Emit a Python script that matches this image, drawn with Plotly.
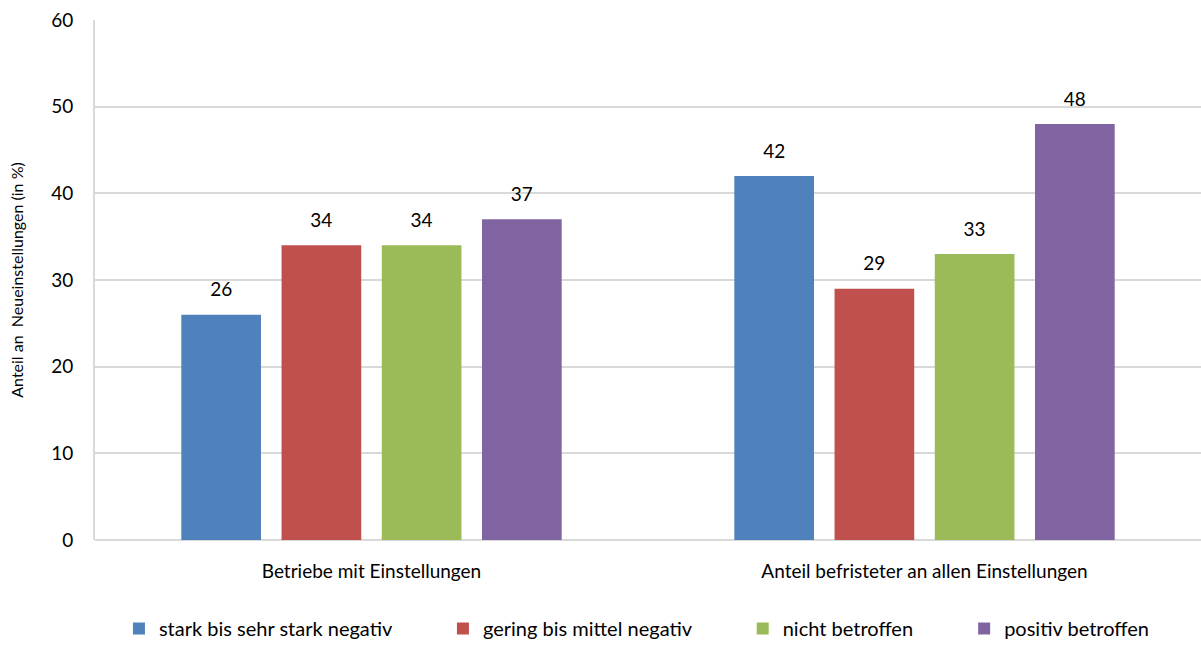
import plotly.graph_objects as go

categories = ["Betriebe mit Einstellungen", "Anteil befristeter an allen Einstellungen"]
series_names = ["stark bis sehr stark negativ", "gering bis mittel negativ", "nicht betroffen", "positiv betroffen"]
series_values = [
    [26, 42],
    [34, 29],
    [34, 33],
    [37, 48],
]
colors = ["#4F81BD", "#C0504D", "#9BBB59", "#8064A2"]
y_ticks = [0, 10, 20, 30, 40, 50, 60]
legend_pad = ["\u00a0" * 9, "\u00a0" * 9, "\u00a0" * 9, ""]

FONT = "Lato"

fig = go.Figure()
for i, (name, vals, col, pad) in enumerate(zip(series_names, series_values, colors, legend_pad)):
    fig.add_trace(go.Bar(
        x=categories, y=vals, name=name + pad,
        marker=dict(color=col, line=dict(width=0)),
        offsetgroup=str(i), alignmentgroup="a",
        cliponaxis=False,
    ))
for i, vals in enumerate(series_values):
    fig.add_trace(go.Scatter(
        x=categories, y=vals, mode="markers+text",
        text=[str(v) for v in vals], textposition="top center",
        textfont=dict(family=FONT, size=19, color="#000000"),
        marker=dict(size=20, opacity=0),
        offsetgroup=str(i), alignmentgroup="a",
        showlegend=False, hoverinfo="skip", cliponaxis=False,
    ))

fig.update_layout(
    width=1201, height=648,
    margin=dict(l=95, r=0, t=20, b=108, autoexpand=False),
    plot_bgcolor="white", paper_bgcolor="white",
    barmode="group", bargap=0.275, bargroupgap=0.205,
    scattermode="group", scattergap=0.275,
    font=dict(family=FONT, size=19, color="#000000"),
    showlegend=True,
    legend=dict(orientation="h", x=0.49, xanchor="center", yref="container", y=-0.012, yanchor="bottom",
                font=dict(family=FONT, size=20), itemwidth=30, traceorder="normal"),
    xaxis=dict(showline=False, ticks="", tickfont=dict(size=19), ticklabelstandoff=18),
    yaxis=dict(range=[0, 60], tickvals=y_ticks, showgrid=True, gridcolor="#D9D9D9", gridwidth=2,
               showline=True, linecolor="#D9D9D9", linewidth=2, zeroline=True, zerolinecolor="#D9D9D9",
               zerolinewidth=2, ticks="", ticklen=0, tickfont=dict(size=19), ticklabelstandoff=16,
               title=dict(text="Anteil an  Neueinstellungen (in %)", font=dict(size=16), standoff=24)),
)

fig.write_html("out.html")
